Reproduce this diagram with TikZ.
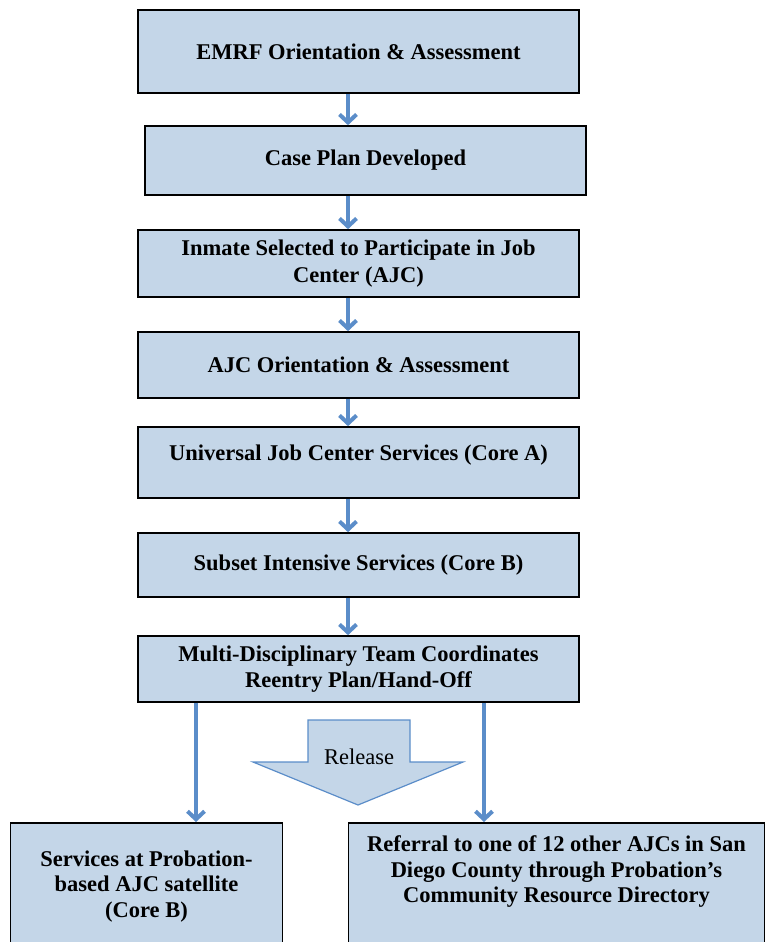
\documentclass[tikz,border=0pt]{standalone}
\usepackage{fontspec}
\setmainfont{Liberation Serif}
\usetikzlibrary{arrows.meta}
\definecolor{boxfill}{RGB}{196,214,232}
\definecolor{flowblue}{RGB}{91,141,201}

\begin{document}
\begin{tikzpicture}[x=1pt,y=-1pt,>={Straight Barb[length=8pt,width=17pt]},
    stepbox/.style={draw=black,line width=1.6pt,fill=boxfill,minimum width=441pt,
      align=center,font=\fontsize{22.5}{26.5}\selectfont\bfseries},
    outbox/.style={draw=black,line width=1.6pt,fill=boxfill,anchor=north,inner xsep=0pt,
      font=\fontsize{22.5}{25.5}\selectfont\bfseries},
    flow/.style={->,draw=flowblue,line width=4pt}]
  \useasboundingbox (0,0) rectangle (766,942);
  \clip (0,0) rectangle (766,942);
  \coordinate (spine) at (348,0);
  \coordinate (lcol) at (196,0);
  \coordinate (rcol) at (484,0);
  \node[stepbox,minimum height=83pt] (emrf) at (358.5,51.5) {EMRF Orientation \& Assessment};
  \node[stepbox,minimum height=69pt] (plan) at (365.5,160.5) {Case Plan Developed};
  \node[stepbox,minimum height=67pt] (inmate) at (358.5,263.5)
    {Inmate Selected to Participate in Job\\Center (AJC)};
  \node[stepbox,minimum height=66pt] (ajc) at (358.5,365) {AJC Orientation \& Assessment};
  \node[stepbox,minimum height=71pt,text depth=19pt] (corea) at (358.5,462.5)
    {Universal Job Center Services (Core A)};
  \node[stepbox,minimum height=64pt] (coreb) at (358.5,565) {Subset Intensive Services (Core B)};
  \node[stepbox,minimum height=66pt] (team) at (358.5,669)
    {Multi-Disciplinary Team Coordinates\\Reentry Plan/Hand-Off};
  \node[outbox,inner ysep=28pt] (probsat) at (146.5,822)
    {\parbox[t][140pt][t]{272pt}{\centering Services at Probation-\\based AJC satellite\\(Core B)}};
  \node[outbox,inner ysep=13pt] (referral) at (556.5,822)
    {\parbox[t][140pt][t]{416pt}{\centering Referral to one of 12 other AJCs in San\\Diego County through Probation’s\\Community Resource Directory}};
  \foreach \a/\b in {emrf/plan,plan/inmate,inmate/ajc,ajc/corea,corea/coreb,coreb/team}
    \draw[flow] (\a.south -| spine) -- (\b.north -| spine);
  \draw[flow] (team.south -| lcol) -- (probsat.north -| lcol);
  \draw[flow] (team.south -| rcol) -- (referral.north -| rcol);
  \draw[fill=boxfill,draw=flowblue,line width=1.2pt]
    (308,720) -- (410,720) -- (410,762) -- (463,762) -- (358,805) -- (253,762) -- (308,762) -- cycle;
  \node[font=\fontsize{22.5}{27}\selectfont] (release) at (359,757) {Release};
\end{tikzpicture}
\end{document}
